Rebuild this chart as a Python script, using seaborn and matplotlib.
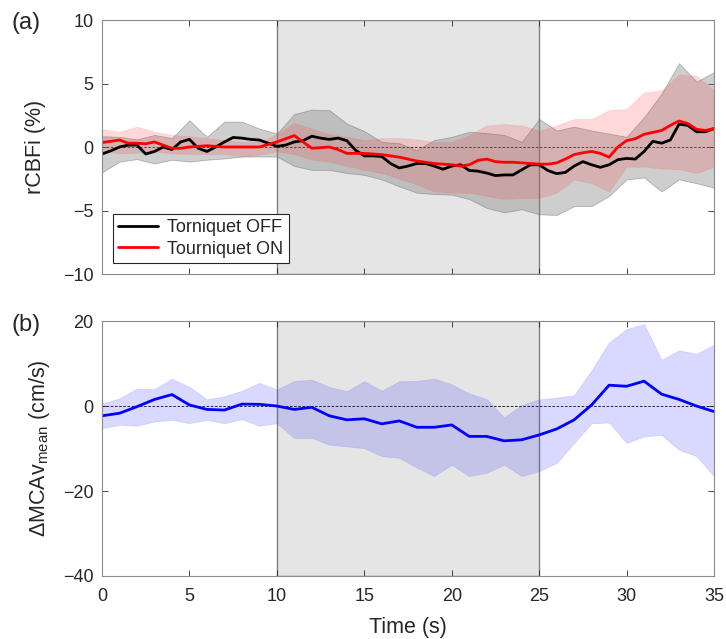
import numpy as np
import pandas as pd
import matplotlib
matplotlib.use("Agg")
import matplotlib.pyplot as plt
import seaborn as sns

# ==========================================
# Data
# ==========================================

t_line = np.arange(0, 35.01, 0.5)
t_band = np.arange(0, 36, 1)

cbf_off = [-0.55, -0.3, 0.0, 0.15, 0.15, -0.55, -0.35, 0.0, -0.2, 0.4,
           0.6, -0.1, -0.35, 0.0, 0.4, 0.75, 0.7, 0.6, 0.55, 0.3,
           0.05, 0.15, 0.4, 0.5, 0.85, 0.7, 0.6, 0.7, 0.5, -0.25,
           -0.7, -0.7, -0.75, -1.3, -1.65, -1.5, -1.3, -1.3, -1.5, -1.75,
           -1.5, -1.4, -1.85, -1.9, -2.05, -2.25, -2.2, -2.2, -1.8, -1.4,
           -1.4, -1.85, -2.1, -2.0, -1.5, -1.15, -1.4, -1.6, -1.4, -1.0,
           -0.9, -0.95, -0.35, 0.45, 0.3, 0.55, 1.8, 1.7, 1.2, 1.2, 1.45]

cbf_on = [0.35, 0.45, 0.55, 0.3, 0.3, 0.25, 0.4, 0.15, -0.1, -0.1,
          0.0, 0.05, 0.1, 0.05, 0.0, 0.0, 0.0, 0.0, 0.0, 0.2,
          0.4, 0.65, 0.9, 0.4, -0.1, -0.05, 0.0, -0.2, -0.5, -0.5,
          -0.5, -0.55, -0.6, -0.7, -0.8, -0.95, -1.1, -1.2, -1.3, -1.35,
          -1.4, -1.5, -1.4, -1.05, -0.95, -1.15, -1.2, -1.2, -1.25, -1.3,
          -1.35, -1.35, -1.25, -0.95, -0.6, -0.45, -0.35, -0.5, -0.8, 0.0,
          0.5, 0.65, 1.0, 1.15, 1.3, 1.7, 2.05, 1.85, 1.4, 1.3, 1.45]

off_hi = [0.85, 0.8, 0.6, 0.95, 0.7, 2.1, 0.8, 2.0, 2.0, 1.45, 1.05, 2.6,
          2.95, 2.9, 1.85, 1.25, 0.4, 0.3, -0.25, 0.55, 0.8, 1.2, 1.1, 0.95,
          0.4, 2.2, 1.3, 1.6, 1.3, 1.05, 0.8, 2.35, 4.2, 6.6, 5.15, 5.9]
off_lo = [-2.0, -1.15, -0.95, -1.3, -1.0, -1.15, -1.0, -0.9, -0.75, -0.75, -0.75, -1.5,
          -1.8, -1.8, -2.05, -2.2, -2.55, -3.1, -3.6, -3.7, -3.75, -4.1, -4.8, -5.15,
          -4.9, -5.3, -5.35, -4.65, -4.65, -3.85, -2.55, -2.4, -3.5, -2.55, -2.85, -3.2]

on_hi = [1.4, 1.2, 1.6, 1.2, 0.95, 0.85, 0.7, 0.55, 0.4, 0.4, 1.0, 1.9,
         1.45, 1.0, 0.8, 0.55, 0.7, 0.7, 0.6, 0.4, 0.4, 0.95, 1.7, 1.8,
         1.7, 1.3, 1.7, 2.2, 2.2, 2.9, 3.0, 4.3, 4.45, 5.7, 5.6, 4.45]
on_lo = [-0.35, -0.5, -0.45, -0.35, -0.5, -0.55, -0.55, -0.55, -0.75, -0.6, -0.35, -0.55,
         -1.0, -1.15, -1.5, -1.8, -2.05, -2.5, -2.95, -3.5, -3.6, -3.6, -3.85, -4.1,
         -4.0, -4.0, -3.6, -2.55, -2.85, -3.5, -1.55, -1.55, -1.7, -1.75, -2.05, -1.55]

mcav = [-2.3, -1.7, -0.15, 1.55, 2.7, 0.25, -0.8, -0.95, 0.45, 0.4, 0.0, -0.8,
        -0.3, -2.3, -3.25, -3.0, -4.2, -3.5, -5.0, -5.0, -4.45, -7.15, -7.15, -8.2,
        -7.95, -6.8, -5.4, -3.25, 0.25, 4.9, 4.65, 5.85, 2.8, 1.55, 0.0, -1.3]
mcav_hi = [0.6, 1.8, 4.1, 4.0, 6.45, 4.5, 1.55, 2.3, 3.6, 5.45, 3.9, 5.9,
           6.2, 4.5, 3.5, 5.85, 3.6, 5.85, 5.9, 6.45, 5.1, 2.95, 1.65, -2.65,
           0.25, 1.55, 2.0, 2.55, 8.4, 15.0, 18.1, 19.3, 10.9, 13.1, 12.3, 14.4]
mcav_lo = [-5.2, -4.45, -4.65, -3.65, -3.25, -4.05, -3.25, -4.05, -3.1, -4.65, -4.05, -7.55,
           -7.55, -9.1, -9.5, -9.9, -11.8, -12.2, -14.5, -16.5, -13.8, -16.5, -15.7, -13.8,
           -16.5, -15.3, -13.4, -8.7, -4.05, -3.9, -8.7, -7.15, -6.8, -10.3, -11.8, -16.5]

cuff_start, cuff_end = 10, 25

df_a = pd.DataFrame({"Time": t_line, "Torniquet OFF": cbf_off, "Tourniquet ON": cbf_on})
df_b = pd.DataFrame({"Time": t_band, "MCAv": mcav})

# ==========================================
# Figure
# ==========================================

sns.set_style("ticks")
plt.rcParams["font.family"] = ["Liberation Sans", "DejaVu Sans"]
plt.rcParams["mathtext.fontset"] = "custom"
plt.rcParams["mathtext.rm"] = "Liberation Sans"
plt.rcParams["mathtext.it"] = "Liberation Sans:italic"

fig = plt.figure(figsize=(7.26, 6.39), dpi=100)
ax_a = fig.add_axes([0.1405, 0.5712, 0.843, 0.3975])
ax_b = fig.add_axes([0.1405, 0.0986, 0.843, 0.399])

for ax in (ax_a, ax_b):
    ax.axvspan(cuff_start, cuff_end, facecolor="#e5e5e5", edgecolor="#7f7f7f",
               linewidth=1.0, zorder=0)
    ax.axhline(0, color="black", linestyle="--", linewidth=0.6, dashes=(3, 2), zorder=1)

# panel (a)
ax_a.fill_between(t_band, off_lo, off_hi, facecolor="#7f7f7f", alpha=0.38,
                  edgecolor="#555555", linewidth=0.6, zorder=2)
ax_a.fill_between(t_band, on_lo, on_hi, facecolor="#ff3030", alpha=0.18,
                  edgecolor="#ff6060", linewidth=0.6, zorder=2)
sns.lineplot(data=df_a, x="Time", y="Torniquet OFF", ax=ax_a, color="black",
             linewidth=2, label="Torniquet OFF", zorder=4)
sns.lineplot(data=df_a, x="Time", y="Tourniquet ON", ax=ax_a, color="red",
             linewidth=2, label="Tourniquet ON", zorder=4)
ax_a.set_xlim(0, 35)
ax_a.set_ylim(-10, 10)
ax_a.set_yticks([-10, -5, 0, 5, 10])
ax_a.set_xticks([0, 5, 10, 15, 20, 25, 30, 35])
ax_a.set_xticklabels([])
ax_a.set_xlabel("")
ax_a.set_ylabel("rCBFi (%)", fontsize=15.5, labelpad=12)
leg = ax_a.legend(loc="lower left", fontsize=13, frameon=True, fancybox=False,
                  borderaxespad=0.6, handlelength=2.2, borderpad=0.3, labelspacing=0.25,
                  handletextpad=0.5)
leg.get_frame().set_edgecolor("#262626")
leg.get_frame().set_linewidth(0.8)
leg.get_frame().set_alpha(1)

# panel (b)
ax_b.fill_between(t_band, mcav_lo, mcav_hi, facecolor="#3030ff", alpha=0.18,
                  edgecolor="#6060ff", linewidth=0.6, zorder=2)
sns.lineplot(data=df_b, x="Time", y="MCAv", ax=ax_b, color="blue", linewidth=2, zorder=4)
ax_b.set_xlim(0, 35)
ax_b.set_ylim(-40, 20)
ax_b.set_yticks([-40, -20, 0, 20])
ax_b.set_xticks([0, 5, 10, 15, 20, 25, 30, 35])
ax_b.set_xlabel("Time (s)", fontsize=15.5, labelpad=8)
ax_b.set_ylabel(r"$\Delta$MCAv$_{\mathrm{mean}}$ (cm/s)", fontsize=15.5, labelpad=8)

for ax in (ax_a, ax_b):
    ax.tick_params(direction="in", top=True, right=True, length=4, width=0.6,
                   labelsize=13, colors="#262626", pad=6)
    ax.tick_params(axis="x", pad=9)
    for s in ax.spines.values():
        s.set_color("#8a8a8a")
        s.set_linewidth(0.8)
        s.set_zorder(5)

fig.text(0.016, 0.964, "(a)", fontsize=17, va="center")
fig.text(0.016, 0.491, "(b)", fontsize=17, va="center")

fig.savefig("out.png", dpi=100)
